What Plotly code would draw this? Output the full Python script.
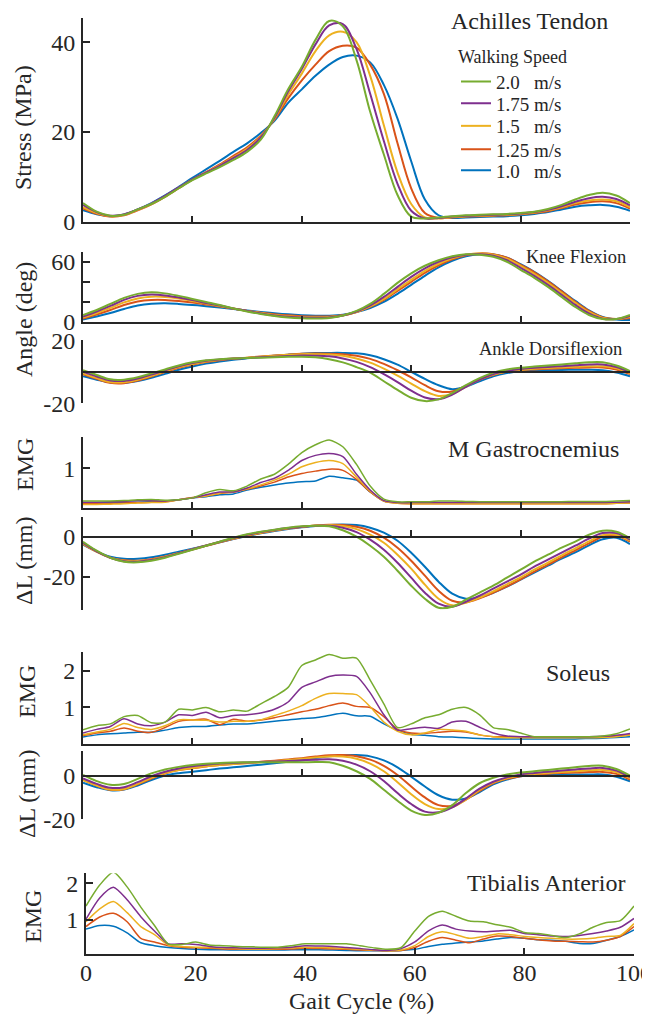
import plotly.graph_objects as go

# ---------------- data ----------------
GAIT = [0, 2.5, 5, 7.5, 10, 12.5, 15, 17.5, 20, 22.5, 25, 27.5, 30, 32.5, 35, 37.5, 40,
        42.5, 45, 47.5, 50, 52.5, 55, 57.5, 60, 62.5, 65, 67.5, 70, 72.5, 75, 77.5, 80,
        82.5, 85, 87.5, 90, 92.5, 95, 97.5, 100]

# slow -> fast (drawing order)
SPEEDS = ["1.0\u00a0\u00a0\u00a0m/s", "1.25 m/s", "1.5\u00a0\u00a0\u00a0m/s", "1.75 m/s", "2.0\u00a0\u00a0\u00a0m/s"]
COLORS = ["#0072BD", "#D95319", "#EDB120", "#7E2F8E", "#77AC30"]

# Achilles tendon stress (MPa)
STRESS_100 = [2.6, 1.7, 1.3, 1.7, 2.8, 4.2, 5.9, 7.8, 9.8, 11.7, 13.6, 15.6, 17.5, 19.8, 22.5, 26.5, 29.5, 32.5, 35.0, 36.7, 37.0, 35.5, 30.5, 23.0, 13.5, 5.0, 1.5, 0.9, 1.0, 1.1, 1.2, 1.3, 1.5, 1.8, 2.2, 2.8, 3.4, 3.7, 3.8, 3.4, 2.5]
STRESS_125 = [3.0, 1.8, 1.2, 1.5, 2.6, 3.9, 5.6, 7.5, 9.4, 11.1, 12.8, 14.7, 16.6, 19.2, 22.8, 27.5, 31.5, 35.0, 38.0, 39.2, 38.8, 35.0, 28.5, 17.5, 7.5, 2.0, 0.9, 1.0, 1.2, 1.3, 1.4, 1.5, 1.7, 2.0, 2.4, 3.1, 3.9, 4.4, 4.6, 4.2, 3.0]
STRESS_150 = [3.3, 2.0, 1.3, 1.6, 2.7, 4.0, 5.7, 7.6, 9.4, 11.0, 12.6, 14.4, 16.3, 19.0, 23.0, 28.3, 33.0, 38.0, 41.5, 42.3, 40.0, 32.5, 21.5, 11.0, 4.0, 1.0, 0.8, 1.1, 1.3, 1.4, 1.5, 1.6, 1.8, 2.1, 2.6, 3.3, 4.2, 4.8, 5.0, 4.6, 3.3]
STRESS_175 = [3.8, 2.2, 1.4, 1.7, 2.8, 4.1, 5.8, 7.7, 9.5, 11.0, 12.5, 14.2, 16.0, 18.8, 23.2, 29.0, 34.0, 39.5, 43.7, 44.0, 38.5, 28.5, 18.0, 8.5, 2.5, 0.8, 0.9, 1.2, 1.4, 1.5, 1.6, 1.7, 1.9, 2.2, 2.7, 3.5, 4.5, 5.3, 5.6, 5.1, 3.7]
STRESS_200 = [4.2, 2.3, 1.4, 1.6, 2.8, 4.0, 5.6, 7.5, 9.3, 10.8, 12.2, 13.8, 15.6, 18.3, 23.5, 29.5, 34.5, 40.5, 44.7, 43.5, 36.0, 24.5, 15.0, 6.0, 1.2, 0.8, 1.0, 1.3, 1.5, 1.6, 1.7, 1.8, 2.0, 2.3, 2.9, 3.8, 5.0, 6.0, 6.5, 5.9, 4.2]

# Knee flexion (deg)
KNEE_100 = [2.5, 5.5, 9, 13, 16.5, 18.2, 18.6, 18, 17, 15.8, 14.5, 13, 11.5, 10, 8.7, 7.6, 6.8, 6.3, 6.3, 7.2, 10, 14, 20, 28, 37, 46, 54.5, 61, 65.5, 67.5, 67.3, 64, 57.5, 50, 41, 31, 21, 11.5, 5, 2.5, 2]
KNEE_125 = [3.5, 7.5, 12, 17, 20.5, 22, 22, 21, 19.5, 17.5, 15.5, 13.3, 11, 9.3, 7.8, 6.6, 5.8, 5.5, 5.6, 6.8, 10, 15, 22, 31, 40, 49, 56.5, 62.5, 66.5, 68.3, 67.5, 64, 57, 49.5, 40.5, 30.5, 20, 11, 4.5, 3, 4]
KNEE_150 = [4.5, 9, 14, 19.5, 23.5, 25.2, 25, 23.5, 21, 18.5, 16, 13.5, 11, 9, 7, 5.8, 5, 4.8, 5, 6.5, 10, 15.5, 23, 32.5, 42, 51, 58, 63.5, 67, 68.3, 67, 63, 56, 48, 39, 29, 19, 10, 4, 3, 5]
KNEE_175 = [5.5, 10.5, 16, 22, 26, 27.3, 26.5, 24.5, 22, 19, 16.5, 13.5, 11, 8.5, 6.5, 5.2, 4.5, 4.3, 4.6, 6.5, 10.5, 16.5, 25, 35, 45, 53.5, 60, 64.5, 67, 67.5, 66, 61.5, 54, 46, 37, 27, 17, 8.5, 3.3, 3, 6]
KNEE_200 = [7, 12, 18, 24, 28, 29.6, 28.5, 26, 23, 20, 17, 13.5, 10.5, 8, 6, 4.5, 3.7, 3.5, 4, 6.5, 11, 18, 28, 39, 48.5, 56, 61.5, 65.5, 67.5, 67, 65, 60, 52, 44, 35, 25, 15, 7, 3, 3, 7]

# Ankle dorsiflexion (deg)
ANKLE_100 = [-2.8, -5, -6.8, -7, -5.8, -3.8, -1.3, 1.3, 3.4, 5.2, 6.6, 7.7, 8.6, 9.4, 10.2, 10.9, 11.5, 11.9, 12, 12, 11.7, 10.5, 8, 4.5, 0, -4.5, -8.5, -11, -9.5, -6, -2.8, -0.8, 0.3, 0.8, 1, 1.2, 1.3, 1.3, 1, -0.5, -2.8]
ANKLE_125 = [-1.5, -4.5, -7, -7.2, -5.5, -3, -0.2, 2.5, 4.5, 6.2, 7.4, 8.3, 9, 9.7, 10.3, 10.9, 11.4, 11.6, 11.5, 11.2, 10.2, 8.2, 5, 1, -3.5, -8.5, -12.3, -12.5, -9, -5, -2, 0, 1, 1.5, 1.9, 2.2, 2.5, 2.8, 2.8, 1.5, -1.5]
ANKLE_150 = [-0.8, -4, -6.5, -6.7, -5, -2.5, 0.3, 3, 5, 6.6, 7.6, 8.4, 9, 9.6, 10.2, 10.8, 11.2, 11.2, 11, 10.2, 8.5, 5.8, 2, -2.5, -7.5, -12.3, -15.3, -14, -9.5, -5, -1.8, 0.2, 1.3, 1.9, 2.4, 2.8, 3.2, 3.5, 3.5, 2.2, -0.8]
ANKLE_175 = [0, -3, -5.5, -5.8, -4.3, -1.8, 1, 3.5, 5.5, 7, 7.8, 8.4, 8.8, 9.2, 9.6, 10, 10.3, 10.2, 9.8, 8.5, 6.3, 3, -1.5, -6.5, -12, -16.3, -17.4, -14.5, -9.5, -5, -1.5, 0.5, 1.8, 2.5, 3.1, 3.6, 4.1, 4.6, 4.6, 3, -0.3]
ANKLE_200 = [1, -2, -4.8, -5, -3.5, -1, 1.5, 4, 6, 7.3, 8, 8.5, 8.8, 9, 9.3, 9.5, 9.6, 9.2, 8, 6, 3, -0.5, -6, -11.5, -16.5, -18.6, -17.5, -13.5, -8.5, -4, -0.5, 1.5, 2.6, 3.3, 4, 4.7, 5.4, 6, 6, 4, 0.5]

# M Gastrocnemius EMG
MG_EMG_100 = [0.12, 0.12, 0.13, 0.14, 0.14, 0.15, 0.16, 0.2, 0.25, 0.28, 0.33, 0.35, 0.45, 0.52, 0.58, 0.63, 0.66, 0.68, 0.8, 0.76, 0.7, 0.4, 0.17, 0.13, 0.12, 0.12, 0.12, 0.12, 0.12, 0.12, 0.12, 0.12, 0.12, 0.12, 0.12, 0.12, 0.12, 0.12, 0.12, 0.12, 0.13]
MG_EMG_125 = [0.1, 0.1, 0.11, 0.12, 0.13, 0.14, 0.15, 0.2, 0.26, 0.3, 0.36, 0.4, 0.47, 0.55, 0.65, 0.78, 0.87, 0.93, 0.98, 0.95, 0.72, 0.4, 0.17, 0.11, 0.1, 0.1, 0.1, 0.1, 0.1, 0.1, 0.1, 0.1, 0.1, 0.1, 0.1, 0.1, 0.1, 0.1, 0.1, 0.11, 0.12]
MG_EMG_150 = [0.08, 0.08, 0.09, 0.1, 0.12, 0.13, 0.14, 0.2, 0.25, 0.3, 0.37, 0.4, 0.48, 0.58, 0.7, 0.85, 1.04, 1.15, 1.2, 1.12, 0.78, 0.42, 0.17, 0.11, 0.1, 0.1, 0.1, 0.1, 0.1, 0.1, 0.1, 0.1, 0.1, 0.1, 0.1, 0.1, 0.1, 0.1, 0.1, 0.11, 0.12]
MG_EMG_175 = [0.14, 0.14, 0.15, 0.16, 0.18, 0.18, 0.17, 0.2, 0.25, 0.33, 0.4, 0.4, 0.5, 0.64, 0.75, 0.95, 1.2, 1.33, 1.38, 1.3, 0.85, 0.45, 0.18, 0.13, 0.13, 0.13, 0.13, 0.13, 0.13, 0.13, 0.13, 0.13, 0.13, 0.13, 0.13, 0.13, 0.13, 0.13, 0.13, 0.14, 0.15]
MG_EMG_200 = [0.17, 0.17, 0.17, 0.18, 0.2, 0.21, 0.19, 0.2, 0.25, 0.38, 0.46, 0.43, 0.55, 0.73, 0.85, 1.1, 1.4, 1.6, 1.72, 1.55, 1.1, 0.55, 0.22, 0.15, 0.15, 0.15, 0.17, 0.17, 0.16, 0.15, 0.15, 0.15, 0.15, 0.15, 0.15, 0.15, 0.16, 0.16, 0.16, 0.17, 0.18]

# M Gastrocnemius length change (mm)
MG_DL_100 = [-4, -7.5, -10, -11, -11, -10.3, -9, -7.5, -6, -4.5, -2.8, -1.2, 0.3, 1.7, 2.9, 3.9, 4.7, 5.4, 5.9, 6.1, 5.8, 4.5, 2, -2, -8, -15, -22.5, -28.5, -31, -30.3, -28, -25, -21.5, -18, -14.5, -11, -7.8, -4.3, -1.3, -0.5, -3.7]
MG_DL_125 = [-3.5, -7.5, -10.5, -11.8, -12, -11.3, -9.9, -8.2, -6.4, -4.6, -2.8, -1.1, 0.5, 1.9, 3.1, 4.1, 4.9, 5.6, 6, 5.9, 5, 3, -0.5, -5.5, -12, -19.5, -27, -32, -32.8, -30.8, -28, -24.8, -21.3, -17.5, -14, -10.3, -6.8, -3.3, 0, 0.5, -2.5]
MG_DL_150 = [-3.5, -7.5, -10.5, -12, -12.2, -11.5, -10, -8.2, -6.3, -4.4, -2.6, -0.9, 0.7, 2, 3.2, 4.2, 5, 5.6, 5.9, 5.3, 3.8, 1, -3, -9, -16, -24, -31, -34.3, -33, -30.5, -27.3, -23.8, -20.3, -16.5, -13, -9.3, -5.8, -2.3, 0.8, 1, -2]
MG_DL_175 = [-3, -7.3, -10.5, -12.3, -12.5, -11.7, -10.2, -8.3, -6.3, -4.4, -2.5, -0.7, 1, 2.3, 3.4, 4.3, 5, 5.5, 5.5, 4.5, 2.3, -1.5, -6.5, -13, -20.5, -28, -33.5, -35, -32.5, -29.5, -26, -22.5, -19, -15, -11.5, -8, -4.5, -1, 1.8, 1.8, -1.5]
MG_DL_200 = [-2.5, -7, -10.5, -12.5, -12.8, -12, -10.5, -8.5, -6.5, -4.5, -2.5, -0.5, 1.2, 2.5, 3.5, 4.5, 5.2, 5.5, 5.2, 3.2, 0, -4.5, -10, -17, -24.5, -31, -35.5, -35, -31.5, -28, -24.5, -20.5, -16.5, -12.5, -9, -5.5, -2.5, 1, 3, 2.5, -0.8]

# Soleus EMG
SOL_EMG_100 = [0.19, 0.25, 0.28, 0.3, 0.32, 0.32, 0.38, 0.45, 0.48, 0.48, 0.52, 0.55, 0.55, 0.58, 0.62, 0.66, 0.7, 0.72, 0.78, 0.84, 0.77, 0.76, 0.55, 0.38, 0.27, 0.24, 0.2, 0.19, 0.17, 0.15, 0.14, 0.14, 0.14, 0.14, 0.14, 0.14, 0.14, 0.15, 0.16, 0.18, 0.2]
SOL_EMG_125 = [0.23, 0.3, 0.35, 0.44, 0.35, 0.32, 0.45, 0.62, 0.66, 0.68, 0.53, 0.68, 0.62, 0.66, 0.72, 0.8, 0.88, 0.95, 1.05, 1.12, 1.03, 1.0, 0.75, 0.4, 0.3, 0.29, 0.32, 0.35, 0.33, 0.25, 0.2, 0.2, 0.2, 0.2, 0.2, 0.2, 0.2, 0.2, 0.2, 0.22, 0.25]
SOL_EMG_150 = [0.25, 0.33, 0.4, 0.56, 0.45, 0.4, 0.5, 0.66, 0.66, 0.65, 0.6, 0.62, 0.62, 0.66, 0.78, 0.9, 1.05, 1.25, 1.38, 1.38, 1.35, 1.02, 0.6, 0.35, 0.25, 0.3, 0.4, 0.38, 0.35, 0.25, 0.2, 0.17, 0.17, 0.17, 0.17, 0.17, 0.17, 0.17, 0.18, 0.2, 0.25]
SOL_EMG_175 = [0.3, 0.4, 0.48, 0.69, 0.55, 0.5, 0.6, 0.8, 0.78, 0.87, 0.72, 0.78, 0.8, 0.85, 0.95, 1.15, 1.55, 1.7, 1.85, 1.89, 1.85, 1.4, 0.8, 0.38, 0.42, 0.46, 0.43, 0.6, 0.62, 0.46, 0.3, 0.22, 0.2, 0.2, 0.2, 0.2, 0.2, 0.2, 0.21, 0.24, 0.29]
SOL_EMG_200 = [0.39, 0.5, 0.55, 0.75, 0.78, 0.58, 0.6, 0.95, 0.93, 1.0, 0.88, 0.93, 0.9, 1.1, 1.3, 1.55, 2.15, 2.3, 2.45, 2.35, 2.35, 1.75, 1.1, 0.45, 0.55, 0.72, 0.8, 0.95, 1.0, 0.8, 0.45, 0.4, 0.3, 0.2, 0.2, 0.2, 0.2, 0.2, 0.22, 0.28, 0.41]

# Soleus length change (mm)
SOL_DL_100 = [-3.2, -5.3, -6.7, -6.4, -4.5, -2, 0, 1.1, 1.8, 2.5, 3.2, 3.8, 4.4, 5, 5.6, 6.3, 7, 8, 8.8, 9.3, 9.4, 8.8, 7, 3.8, -0.5, -5, -9, -11, -10.5, -7.5, -4, -1.8, -0.3, 0.2, 0.4, 0.5, 0.5, 0.5, 0.5, -0.5, -2.6]
SOL_DL_125 = [-2, -4.6, -6.5, -6.2, -4, -1.3, 1, 2.5, 3.4, 4.2, 4.8, 5.3, 5.8, 6.3, 6.8, 7.4, 8, 8.7, 9.3, 9.4, 8.9, 7.3, 4.5, 0.3, -5, -10, -13.5, -13.8, -11, -7, -3.5, -1.5, -0.3, 0.4, 0.9, 1.2, 1.4, 1.6, 1.7, 0.8, -1.8]
SOL_DL_150 = [-2, -4.5, -6.4, -6.1, -3.8, -1, 1.2, 2.6, 3.5, 4.3, 4.9, 5.3, 5.7, 6.1, 6.6, 7.1, 7.7, 8.3, 8.8, 8.7, 7.7, 5.5, 2, -3, -8.5, -13, -15.3, -14.5, -11, -6.5, -3.2, -1.2, 0, 0.7, 1.2, 1.6, 2, 2.4, 2.6, 1.6, -1.3]
SOL_DL_175 = [-1.3, -3.8, -5.6, -5.3, -3, -0.3, 1.8, 3.3, 4.3, 5, 5.5, 5.8, 6, 6.2, 6.4, 6.7, 7, 7.3, 7.5, 6.8, 5, 2, -2.5, -8, -13, -16.5, -16.8, -14.5, -10.5, -6, -2.8, -0.8, 0.5, 1.2, 1.8, 2.3, 2.8, 3.3, 3.5, 2.3, -0.7]
SOL_DL_200 = [0.3, -2.5, -4.2, -3.8, -1.5, 1, 2.8, 4, 4.9, 5.4, 5.8, 6, 6.1, 6.1, 6.1, 6.1, 6.1, 6.2, 6.1, 4.5, 2, -1.5, -6.5, -11.5, -16, -18, -17, -13.5, -8, -3.5, -1, 0.5, 1.4, 2, 2.6, 3.2, 3.8, 4.4, 4.5, 3, 0]

# Tibialis anterior EMG
TA_EMG_100 = [0.75, 0.85, 0.83, 0.65, 0.38, 0.3, 0.25, 0.22, 0.2, 0.19, 0.19, 0.18, 0.18, 0.18, 0.18, 0.19, 0.19, 0.19, 0.18, 0.17, 0.16, 0.16, 0.16, 0.17, 0.2, 0.28, 0.34, 0.37, 0.4, 0.43, 0.48, 0.52, 0.5, 0.46, 0.45, 0.42, 0.36, 0.36, 0.45, 0.55, 0.73]
TA_EMG_125 = [0.82, 1.08, 1.18, 0.95, 0.5, 0.4, 0.3, 0.26, 0.24, 0.23, 0.21, 0.2, 0.2, 0.2, 0.2, 0.21, 0.23, 0.22, 0.21, 0.2, 0.18, 0.17, 0.16, 0.17, 0.25, 0.42, 0.52, 0.45, 0.38, 0.48, 0.56, 0.55, 0.5, 0.46, 0.43, 0.42, 0.41, 0.4, 0.45, 0.55, 0.82]
TA_EMG_150 = [0.95, 1.3, 1.5, 1.2, 0.82, 0.6, 0.32, 0.28, 0.26, 0.25, 0.23, 0.22, 0.21, 0.21, 0.22, 0.24, 0.26, 0.25, 0.24, 0.22, 0.2, 0.18, 0.16, 0.18, 0.3, 0.55, 0.68, 0.6, 0.5, 0.55, 0.62, 0.6, 0.55, 0.52, 0.5, 0.48, 0.48, 0.5, 0.55, 0.58, 0.9]
TA_EMG_175 = [1.02, 1.6, 1.89, 1.55, 1.09, 0.7, 0.35, 0.35, 0.33, 0.28, 0.25, 0.24, 0.23, 0.23, 0.24, 0.26, 0.3, 0.29, 0.28, 0.25, 0.22, 0.19, 0.17, 0.22, 0.4, 0.7, 0.86, 0.75, 0.7, 0.68, 0.7, 0.72, 0.63, 0.6, 0.56, 0.55, 0.58, 0.63, 0.7, 0.8, 1.04]
TA_EMG_200 = [1.38, 1.95, 2.3, 1.9, 1.35, 0.85, 0.35, 0.33, 0.4, 0.32, 0.3, 0.28, 0.27, 0.26, 0.26, 0.3, 0.35, 0.35, 0.35, 0.35, 0.3, 0.24, 0.2, 0.25, 0.7, 1.1, 1.24, 1.1, 0.97, 0.95, 0.87, 0.8, 0.66, 0.63, 0.58, 0.52, 0.62, 0.8, 0.93, 0.98, 1.38]

X_TICKS = [0, 20, 40, 60, 80, 100]

# ---------------- layout helpers ----------------
# the page body has an 8px margin, so the figure is drawn 8px in from the window edge
OFF = 8
W, H = 650 - OFF, 1017 - OFF
FONT = "Liberation Serif, Times New Roman, serif"
INK = "#262626"


def fx(px):
    return (px - OFF) / W


def fy(py):
    return 1 - (py - OFF) / H


PANELS = [
    dict(series=[STRESS_100, STRESS_125, STRESS_150, STRESS_175, STRESS_200],
         box=(83, 630, 18.3, 222), yrange=[0, 45.3], yticks=[0, 20, 40], ylabels=["0", "20", "40"],
         origin=False, lw=2.0, smooth=1.0),
    dict(series=[KNEE_100, KNEE_125, KNEE_150, KNEE_175, KNEE_200],
         box=(83, 630, 251.7, 322), yrange=[0, 70], yticks=[0, 20, 40, 60], ylabels=["0", "", "", "60"],
         origin=False, lw=2.0, smooth=1.0),
    dict(series=[ANKLE_100, ANKLE_125, ANKLE_150, ANKLE_175, ANKLE_200],
         box=(83, 630, 340.3, 403.3), yrange=[-20, 20], yticks=[-20, 20], ylabels=["-20", "20"],
         origin=True, lw=2.0, smooth=1.0),
    dict(series=[MG_EMG_100, MG_EMG_125, MG_EMG_150, MG_EMG_175, MG_EMG_200],
         box=(83, 630, 437.3, 507.7), yrange=[0, 1.79], yticks=[1], ylabels=["1"],
         origin=False, lw=1.5, smooth=0.7),
    dict(series=[MG_DL_100, MG_DL_125, MG_DL_150, MG_DL_175, MG_DL_200],
         box=(83, 630, 516.7, 609.5), yrange=[-36.4, 10], yticks=[-20, 0], ylabels=["-20", "0"],
         origin=True, lw=2.0, smooth=1.0),
    dict(series=[SOL_EMG_100, SOL_EMG_125, SOL_EMG_150, SOL_EMG_175, SOL_EMG_200],
         box=(83, 630, 652.3, 744), yrange=[0, 2.51], yticks=[1, 2], ylabels=["1", "2"],
         origin=False, lw=1.5, smooth=0.7),
    dict(series=[SOL_DL_100, SOL_DL_125, SOL_DL_150, SOL_DL_175, SOL_DL_200],
         box=(83, 630, 750.7, 819.3), yrange=[-20, 11.4], yticks=[-20, 0], ylabels=["-20", "0"],
         origin=True, lw=2.0, smooth=1.0),
    dict(series=[TA_EMG_100, TA_EMG_125, TA_EMG_150, TA_EMG_175, TA_EMG_200],
         box=(86, 634, 873.3, 954.3), yrange=[0.065, 2.27], yticks=[1, 2], ylabels=["1", "2"],
         origin=False, lw=1.5, smooth=0.7),
]

# legend rows (pixel centre y), slow -> fast
LEGEND_ROWS = [170.5, 149.5, 126, 103.5, 81.7]

fig = go.Figure()
layout = {}

for i, p in enumerate(PANELS):
    n = "" if i == 0 else str(i + 1)
    xref, yref = "x" + n, "y" + n
    x0, x1, ytop, ybot = p["box"]
    for j, vals in enumerate(p["series"]):
        fig.add_trace(go.Scatter(
            x=GAIT, y=vals, xaxis=xref, yaxis=yref, mode="lines",
            name=SPEEDS[j], showlegend=(i == 0),
            legend=("legend" if j == 0 else "legend%d" % (j + 1)),
            line=dict(color=COLORS[j], width=p["lw"], shape="spline", smoothing=p["smooth"]),
            hoverinfo="skip",
        ))
    ydom = [fy(ybot), fy(ytop)]
    last = i == len(PANELS) - 1
    xa = dict(domain=[fx(x0), fx(x1)], range=[0, 100], showline=True, linecolor=INK,
              linewidth=2 if not p["origin"] else 1.6, ticks="inside", ticklen=6, tickwidth=1.5,
              tickcolor=INK, tickvals=X_TICKS, showticklabels=last, showgrid=False,
              zeroline=False, fixedrange=True, automargin=False, ticklabeloverflow="allow",
              tickfont=dict(family=FONT, size=24, color=INK), ticklabelstandoff=-4)
    if p["origin"]:
        lo, hi = p["yrange"]
        frac = (0 - lo) / (hi - lo)
        xa.update(anchor="free", position=ydom[0] + frac * (ydom[1] - ydom[0]))
    else:
        xa.update(anchor=yref)
    ya = dict(domain=ydom, range=p["yrange"], anchor=xref, showline=True, linecolor=INK,
              linewidth=2, ticks="inside", ticklen=7, tickwidth=1.5, tickcolor=INK,
              tickvals=p["yticks"], ticktext=p["ylabels"], showgrid=False, zeroline=False,
              fixedrange=True, automargin=False, ticklabeloverflow="allow",
              tickfont=dict(family=FONT, size=24, color=INK), ticklabelstandoff=1)
    layout["xaxis" + n] = xa
    layout["yaxis" + n] = ya

for j, row in enumerate(LEGEND_ROWS):
    key = "legend" if j == 0 else "legend%d" % (j + 1)
    layout[key] = dict(x=fx(456), y=fy(row), xanchor="left", yanchor="middle",
                       bgcolor="rgba(0,0,0,0)", borderwidth=0, itemwidth=30,
                       font=dict(family=FONT, size=19, color=INK))

annotations = []


def note(text, px, py, size=24, angle=0):
    annotations.append(dict(text=text, x=fx(px), y=fy(py), xref="paper", yref="paper",
                            xanchor="center", yanchor="middle", showarrow=False,
                            textangle=angle, font=dict(family=FONT, size=size, color=INK)))


# panel titles
note("Achilles Tendon", 529, 21)
note("Walking Speed", 512, 57, size=18)
note("Knee Flexion", 576, 257, size=18.5)
note("Ankle Dorsiflexion", 550, 349, size=18.5)
note("M Gastrocnemius", 533, 449)
note("Soleus", 578, 673)
note("Tibialis Anterior", 546, 883)
# y-axis titles
note("Stress (MPa)", 23, 128, angle=-90)
note("Angle (deg)", 24, 320, angle=-90)
note("EMG", 25, 465, angle=-90)
note("\u0394L (mm)", 24, 561, angle=-90)
note("EMG", 27, 692, angle=-90)
note("\u0394L (mm)", 27, 794, angle=-90)
note("EMG", 33, 917, angle=-90)
# x-axis title
note("Gait Cycle (%)", 361, 1001)

fig.update_layout(
    width=W, height=H, margin=dict(l=0, r=0, t=0, b=0, autoexpand=False),
    paper_bgcolor="white", plot_bgcolor="white",
    font=dict(family=FONT, color=INK),
    showlegend=True,
    annotations=annotations,
    **layout,
)

fig.write_html("out.html")
